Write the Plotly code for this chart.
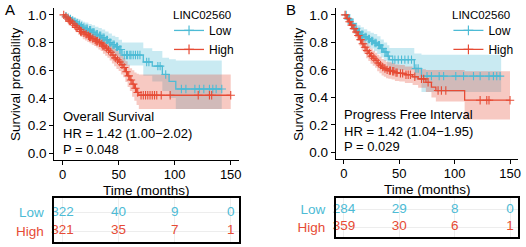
import numpy as np
import plotly.graph_objects as go

# ---------------- Data ----------------
# Panel A: Overall Survival
os_low_time = [0, 2, 4, 6, 8, 10, 12, 14, 16, 18, 20, 23, 26, 29, 32, 35, 38, 41, 44, 47, 50, 53, 72, 80, 89, 95, 101, 142]
os_low_surv = [1.00, 0.99, 0.98, 0.97, 0.96, 0.95, 0.94, 0.93, 0.92, 0.91, 0.90, 0.89, 0.875, 0.86, 0.85, 0.835, 0.82, 0.80, 0.785, 0.77, 0.75, 0.71, 0.66, 0.63, 0.57, 0.52, 0.465, 0.465]
os_low_upper = [1.00, 1.00, 0.995, 0.99, 0.985, 0.98, 0.975, 0.97, 0.96, 0.95, 0.945, 0.935, 0.925, 0.915, 0.905, 0.895, 0.88, 0.865, 0.85, 0.84, 0.82, 0.80, 0.76, 0.74, 0.69, 0.68, 0.67, 0.67]
os_low_lower = [1.00, 0.98, 0.965, 0.95, 0.94, 0.925, 0.91, 0.895, 0.88, 0.87, 0.86, 0.845, 0.83, 0.815, 0.80, 0.785, 0.765, 0.745, 0.725, 0.705, 0.685, 0.635, 0.56, 0.52, 0.45, 0.40, 0.32, 0.32]
os_low_censor = [3, 5, 7, 9, 11, 13, 15, 17, 19, 21, 22, 24, 25, 27, 28, 30, 31, 33, 34, 36, 37, 39, 40, 42, 43, 45, 46, 48, 49, 51, 52,
                 55, 57, 58, 60, 61, 63, 65, 67, 69, 75, 77, 85, 87, 92, 106, 110, 118, 122, 126, 131, 134, 137, 142]

os_high_time = [0, 2, 4, 6, 8, 10, 12, 14, 16, 18, 20, 22, 24, 26, 28, 30, 32, 34, 36, 38, 40, 42, 44, 46, 48, 50, 52, 54, 56, 58, 60, 62, 64, 66, 68, 150]
os_high_surv = [1.00, 0.985, 0.97, 0.955, 0.94, 0.925, 0.91, 0.895, 0.88, 0.87, 0.86, 0.85, 0.84, 0.83, 0.82, 0.81, 0.80, 0.79, 0.775, 0.76, 0.745, 0.73, 0.71, 0.69, 0.675, 0.66, 0.64, 0.62, 0.59, 0.56, 0.53, 0.50, 0.47, 0.44, 0.42, 0.42]
os_high_upper = [1.00, 0.995, 0.985, 0.975, 0.965, 0.955, 0.945, 0.935, 0.925, 0.915, 0.905, 0.895, 0.885, 0.875, 0.865, 0.86, 0.85, 0.84, 0.83, 0.815, 0.80, 0.79, 0.77, 0.755, 0.74, 0.725, 0.71, 0.69, 0.665, 0.64, 0.615, 0.60, 0.585, 0.575, 0.57, 0.57]
os_high_lower = [1.00, 0.975, 0.955, 0.935, 0.915, 0.895, 0.875, 0.855, 0.84, 0.825, 0.815, 0.805, 0.795, 0.785, 0.775, 0.765, 0.75, 0.74, 0.72, 0.705, 0.69, 0.67, 0.65, 0.63, 0.61, 0.595, 0.57, 0.55, 0.515, 0.48, 0.45, 0.41, 0.38, 0.35, 0.32, 0.32]
os_high_censor = [1, 3, 5, 6, 7, 9, 11, 12, 13, 15, 16, 17, 19, 21, 23, 24, 25, 27, 29, 30, 31, 33, 35, 36, 37, 39, 41, 43, 45, 47, 49, 51,
                  53, 55, 57, 59, 61, 63, 65, 67, 70, 72, 74, 76, 78, 80, 82, 84, 88, 96, 121, 131, 133, 150]

# Panel B: Progress Free Interval
pfi_low_time = [0, 3, 6, 9, 12, 15, 18, 21, 24, 27, 30, 33, 36, 39, 41, 63.5, 70, 142]
pfi_low_surv = [1.00, 0.97, 0.935, 0.90, 0.875, 0.855, 0.84, 0.825, 0.81, 0.795, 0.78, 0.755, 0.73, 0.70, 0.675, 0.61, 0.555, 0.555]
pfi_low_upper = [1.00, 0.99, 0.97, 0.945, 0.925, 0.91, 0.895, 0.88, 0.87, 0.86, 0.845, 0.82, 0.80, 0.78, 0.76, 0.72, 0.71, 0.71]
pfi_low_lower = [1.00, 0.95, 0.905, 0.86, 0.83, 0.805, 0.785, 0.77, 0.755, 0.735, 0.715, 0.69, 0.665, 0.63, 0.60, 0.53, 0.44, 0.44]
pfi_low_censor = [2, 4, 5, 7, 8, 10, 11, 13, 14, 16, 17, 19, 20, 22, 23, 25, 26, 28, 29, 31, 32, 34, 35, 37, 38, 40,
                  44, 46, 49, 52, 55, 58, 61, 65, 67, 75, 79, 86, 90, 101, 108, 117, 123, 131, 135, 138, 141]

pfi_high_time = [0, 2, 4, 6, 8, 10, 12, 14, 16, 18, 20, 22, 24, 26, 28, 30, 32, 34, 36, 38, 40, 43, 46, 50, 55, 62, 67, 74, 79, 83, 109, 150]
pfi_high_surv = [1.00, 0.975, 0.95, 0.925, 0.90, 0.875, 0.85, 0.82, 0.79, 0.765, 0.74, 0.72, 0.70, 0.685, 0.67, 0.65, 0.635, 0.62, 0.61, 0.60, 0.595, 0.59, 0.58, 0.575, 0.565, 0.55, 0.535, 0.51, 0.475, 0.45, 0.38, 0.38]
pfi_high_upper = [1.00, 0.99, 0.975, 0.955, 0.935, 0.915, 0.89, 0.865, 0.84, 0.815, 0.795, 0.775, 0.755, 0.74, 0.725, 0.71, 0.695, 0.68, 0.67, 0.66, 0.655, 0.65, 0.64, 0.635, 0.625, 0.615, 0.605, 0.60, 0.60, 0.60, 0.59, 0.59]
pfi_high_lower = [1.00, 0.96, 0.925, 0.895, 0.865, 0.835, 0.81, 0.775, 0.74, 0.715, 0.685, 0.665, 0.645, 0.63, 0.615, 0.59, 0.575, 0.56, 0.55, 0.54, 0.535, 0.53, 0.52, 0.515, 0.505, 0.49, 0.47, 0.44, 0.40, 0.37, 0.24, 0.24]
pfi_high_censor = [1, 3, 5, 7, 9, 11, 13, 15, 17, 19, 21, 23, 25, 27, 29, 31, 33, 35, 37, 39, 41, 42, 44, 45, 47, 48,
                   51, 53, 56, 58, 60, 64, 70, 72, 76, 85, 88, 92, 123, 129, 131, 150]

# Numbers at risk
risk_times = [0, 50, 100, 150]
os_risk_low = [322, 40, 9, 0]
os_risk_high = [321, 35, 7, 1]
pfi_risk_low = [284, 29, 8, 0]
pfi_risk_high = [359, 30, 6, 1]

groups = ["Low", "High"]
legend_title = "LINC02560"
x_ticks = [0, 50, 100, 150]
y_ticks = [0.0, 0.2, 0.4, 0.6, 0.8, 1.0]

# ---------------- Style ----------------
W, H = 526, 247
FONT = "Liberation Sans, Arial, sans-serif"
C_LOW = "#4DBBD5"
C_HIGH = "#E64B35"
F_LOW = "rgba(77,187,213,0.30)"
F_HIGH = "rgba(230,75,53,0.30)"


def px(x):
    return x / W


def py(y):
    return (H - y) / H


def step_at(times, surv, t):
    idx = np.searchsorted(np.asarray(times, float), np.asarray(t, float), side="right") - 1
    return np.asarray(surv)[idx]


fig = go.Figure()

panels = [
    dict(xa="x", ya="y", legend="legend",
         low=(os_low_time, os_low_surv, os_low_lower, os_low_upper, os_low_censor),
         high=(os_high_time, os_high_surv, os_high_lower, os_high_upper, os_high_censor)),
    dict(xa="x2", ya="y2", legend="legend2",
         low=(pfi_low_time, pfi_low_surv, pfi_low_lower, pfi_low_upper, pfi_low_censor),
         high=(pfi_high_time, pfi_high_surv, pfi_high_lower, pfi_high_upper, pfi_high_censor)),
]

for p in panels:
    # ribbons (Low first, High on top)
    for key, fc in (("low", F_LOW), ("high", F_HIGH)):
        t, s, lo, up, c = p[key]
        fig.add_trace(go.Scatter(x=t, y=lo, mode="lines", line=dict(width=0, shape="hv"),
                                 hoverinfo="skip", showlegend=False, xaxis=p["xa"], yaxis=p["ya"]))
        fig.add_trace(go.Scatter(x=t, y=up, mode="lines", line=dict(width=0, shape="hv"),
                                 fill="tonexty", fillcolor=fc, hoverinfo="skip", showlegend=False,
                                 xaxis=p["xa"], yaxis=p["ya"]))
    # curves + censor marks
    for key, col in (("low", C_LOW), ("high", C_HIGH)):
        t, s, lo, up, c = p[key]
        fig.add_trace(go.Scatter(x=t, y=s, mode="lines", line=dict(color=col, width=1.3, shape="hv"),
                                 showlegend=False, xaxis=p["xa"], yaxis=p["ya"]))
        fig.add_trace(go.Scatter(x=c, y=step_at(t, s, c), mode="markers",
                                 marker=dict(symbol="cross-thin", size=6, line=dict(color=col, width=1.1)),
                                 showlegend=False, xaxis=p["xa"], yaxis=p["ya"]))
    # legend entries
    for name, col in zip(groups, (C_LOW, C_HIGH)):
        fig.add_trace(go.Scatter(x=[None], y=[None], mode="lines+markers", name=name,
                                 line=dict(color=col, width=1.3),
                                 marker=dict(symbol="cross-thin", size=7, line=dict(color=col, width=1.2)),
                                 legend=p["legend"], xaxis=p["xa"], yaxis=p["ya"]))

# Risk tables
tables = [("x3", "y3", os_risk_low, os_risk_high), ("x4", "y4", pfi_risk_low, pfi_risk_high)]
for xa, ya, rl, rh in tables:
    fig.add_trace(go.Scatter(x=risk_times, y=[2] * len(risk_times), mode="text", text=[str(v) for v in rl],
                             textfont=dict(color=C_LOW, size=13.5, family=FONT), textposition="middle center",
                             showlegend=False, xaxis=xa, yaxis=ya, cliponaxis=False))
    fig.add_trace(go.Scatter(x=risk_times, y=[1] * len(risk_times), mode="text", text=[str(v) for v in rh],
                             textfont=dict(color=C_HIGH, size=13.5, family=FONT), textposition="middle center",
                             showlegend=False, xaxis=xa, yaxis=ya, cliponaxis=False))

# ---------------- Axes ----------------
km_x = dict(range=[-7.5, 157.5], tickvals=x_ticks, ticks="outside", ticklen=4, tickwidth=1,
            tickcolor="black", showline=True, linecolor="black", linewidth=1, showgrid=False,
            zeroline=False, ticklabelstandoff=-2, tickfont=dict(size=13, color="black", family=FONT))
km_y = dict(range=[-0.05, 1.05], tickvals=y_ticks, tickformat=".1f", ticks="outside", ticklen=4,
            tickwidth=1, tickcolor="black", showline=True, linecolor="black", linewidth=1,
            showgrid=False, zeroline=False, tickfont=dict(size=13.5, color="black", family=FONT))

tb_x = dict(range=[-7.5, 157.5], tickvals=x_ticks, showticklabels=False, ticks="",
            showline=True, mirror=True, linecolor="black", linewidth=1.5,
            showgrid=True, gridcolor="#EDEDED", gridwidth=1, zeroline=False)
tb_y = dict(tickvals=[2, 1],
            ticktext=[f'<span style="color:{C_LOW}">{groups[0]}</span>',
                      f'<span style="color:{C_HIGH}">{groups[1]}</span>'],
            ticks="", showline=True, mirror=True, linecolor="black", linewidth=1.5,
            showgrid=True, gridcolor="#EDEDED", gridwidth=1, zeroline=False,
            ticklabelstandoff=6, tickfont=dict(size=13.5, family=FONT))

fig.update_layout(
    xaxis=dict(domain=[px(54.5), px(240.5)], anchor="y", **km_x),
    yaxis=dict(domain=[py(161), py(8)], anchor="x", **km_y),
    xaxis2=dict(domain=[px(337.6), px(521.3)], anchor="y2", **km_x),
    yaxis2=dict(domain=[py(160), py(8)], anchor="x2", **km_y),
    xaxis3=dict(domain=[px(54.5), px(240.5)], anchor="y3", **tb_x),
    yaxis3=dict(domain=[py(243), py(199)], anchor="x3", range=[0.421, 2.737], **tb_y),
    xaxis4=dict(domain=[px(337.6), px(521.3)], anchor="y4", **tb_x),
    yaxis4=dict(domain=[py(238), py(199)], anchor="x4", range=[0.444, 2.611], **tb_y),
)

leg_common = dict(bgcolor="rgba(0,0,0,0)", borderwidth=0, font=dict(size=12, family=FONT, color="black"),
                  xanchor="left", yanchor="top", itemwidth=30, tracegroupgap=0, traceorder="normal")
fig.update_layout(
    legend=dict(x=px(170), y=py(16), **leg_common),
    legend2=dict(x=px(451), y=py(16), **leg_common),
)

ann = []
# legend titles
for xpos in (172, 453):
    ann.append(dict(x=px(xpos), y=py(15), xref="paper", yref="paper", text=legend_title, showarrow=False,
                    xanchor="left", yanchor="middle", font=dict(size=11.5, family=FONT, color="black")))
# panel letters
for letter, xpos in (("A", 10), ("B", 293)):
    ann.append(dict(x=px(xpos), y=py(10), xref="paper", yref="paper", text=letter, showarrow=False,
                    xanchor="center", yanchor="middle", font=dict(size=15, family=FONT, color="black")))
# y titles
for xpos, ymid in ((15, 84.5), (300, 84)):
    ann.append(dict(x=px(xpos), y=py(ymid), xref="paper", yref="paper", text="Survival probability",
                    textangle=-90, showarrow=False, xanchor="center", yanchor="middle",
                    font=dict(size=13.5, family=FONT, color="black")))
# x titles
for xpos, ymid in ((147.5, 191.5), (429.5, 190)):
    ann.append(dict(x=px(xpos), y=py(ymid), xref="paper", yref="paper", text="Time (months)",
                    showarrow=False, xanchor="center", yanchor="middle",
                    font=dict(size=13.5, family=FONT, color="black")))
# statistics text
stats = [("x", "y", ["Overall Survival", "HR = 1.42 (1.00\u22122.02)", "P = 0.048"], [0.268, 0.144, 0.029]),
         ("x2", "y2", ["Progress Free Interval", "HR = 1.42 (1.04\u22121.95)", "P = 0.029"], [0.275, 0.152, 0.043])]
for xa, ya, lines, ys in stats:
    for txt, yv in zip(lines, ys):
        ann.append(dict(x=0, y=yv, xref=xa, yref=ya, text=txt, showarrow=False, xanchor="left",
                        yanchor="middle", xshift=-2, font=dict(size=13, family=FONT, color="black")))

fig.update_layout(
    annotations=ann,
    width=W, height=H,
    margin=dict(l=0, r=0, t=0, b=0),
    paper_bgcolor="white", plot_bgcolor="white",
    font=dict(family=FONT, color="black"),
    showlegend=True,
)

fig.write_html("out.html", config={"displayModeBar": False},
               post_script="document.body.style.margin='0';document.body.style.overflow='hidden';")
